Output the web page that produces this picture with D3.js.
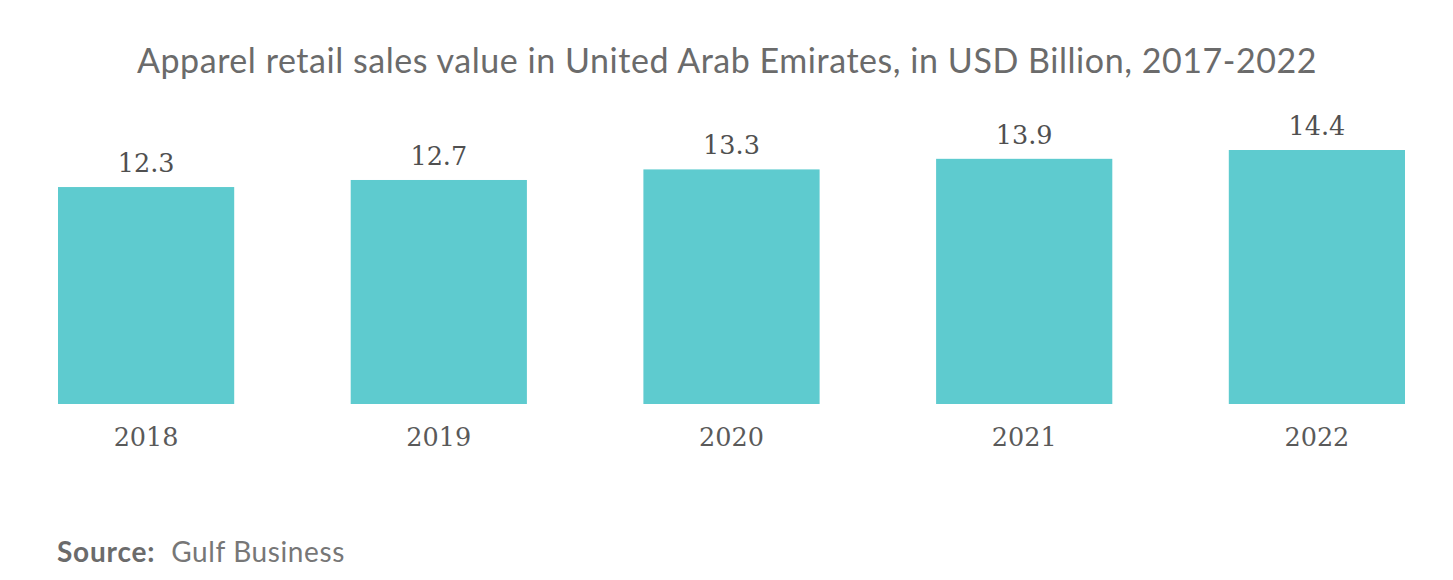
<!DOCTYPE html>
<html><head><meta charset="utf-8">
<script src="https://cdn.jsdelivr.net/npm/d3@7"></script>
<style>body{margin:0;background:#fff;} svg{display:block;}</style>
</head><body>
<script>
const years = ["2018","2019","2020","2021","2022"];
const values = [12.3, 12.7, 13.3, 13.9, 14.4];
const title = "Apparel retail sales value in United Arab Emirates, in USD Billion, 2017-2022";
const sourceLabel = "Source:";
const sourceText = "Gulf Business";

const W = 1453, H = 580;
const svg = d3.select("body").append("svg").attr("width", W).attr("height", H);

const x = d3.scaleBand().domain(years).range([58, 1405]).paddingInner(0.398).paddingOuter(0);
const y = d3.scaleLinear().domain([0, 14.4]).range([404, 150]);

svg.append("text").attr("x", 727).attr("y", 73).attr("text-anchor", "middle")
  .attr("font-family", "Lato").attr("font-size", 34).attr("letter-spacing", 0.55)
  .attr("fill", "#6b6b6b").text(title);

svg.selectAll("rect.bar").data(values).join("rect").attr("class","bar")
  .attr("x", (d,i) => x(years[i])).attr("width", x.bandwidth())
  .attr("y", d => y(d)).attr("height", d => y(0) - y(d)).attr("fill", "#5ecbcf");

svg.selectAll("text.val").data(values).join("text").attr("class","val")
  .attr("x", (d,i) => x(years[i]) + x.bandwidth()/2).attr("y", d => y(d) - 15)
  .attr("text-anchor","middle").attr("font-family","'Roboto Slab', 'DejaVu Serif', Roboto")
  .attr("font-size", 25.5).attr("fill", "#505050").text(d => d.toFixed(1));

const xAxis = d3.axisBottom(x).tickSize(0).tickPadding(0);
const ax = svg.append("g").attr("transform", `translate(0,${y(0)})`).call(xAxis);
ax.select(".domain").remove();
ax.selectAll("text").attr("font-family","'Roboto Slab', 'DejaVu Serif', Roboto").attr("font-size", 25.5)
  .attr("fill", "#5a5a5a").attr("dy", null).attr("y", 42);

const src = svg.append("text").attr("x", 57).attr("y", 562).attr("font-family","Lato").attr("font-size", 28);
src.append("tspan").attr("font-weight","bold").attr("letter-spacing", 0.8).attr("fill","#6b6b6b").text(sourceLabel);
src.append("tspan").attr("dx", 16).attr("letter-spacing", 0.6).attr("fill","#777").text(sourceText);
</script>
</body></html>
